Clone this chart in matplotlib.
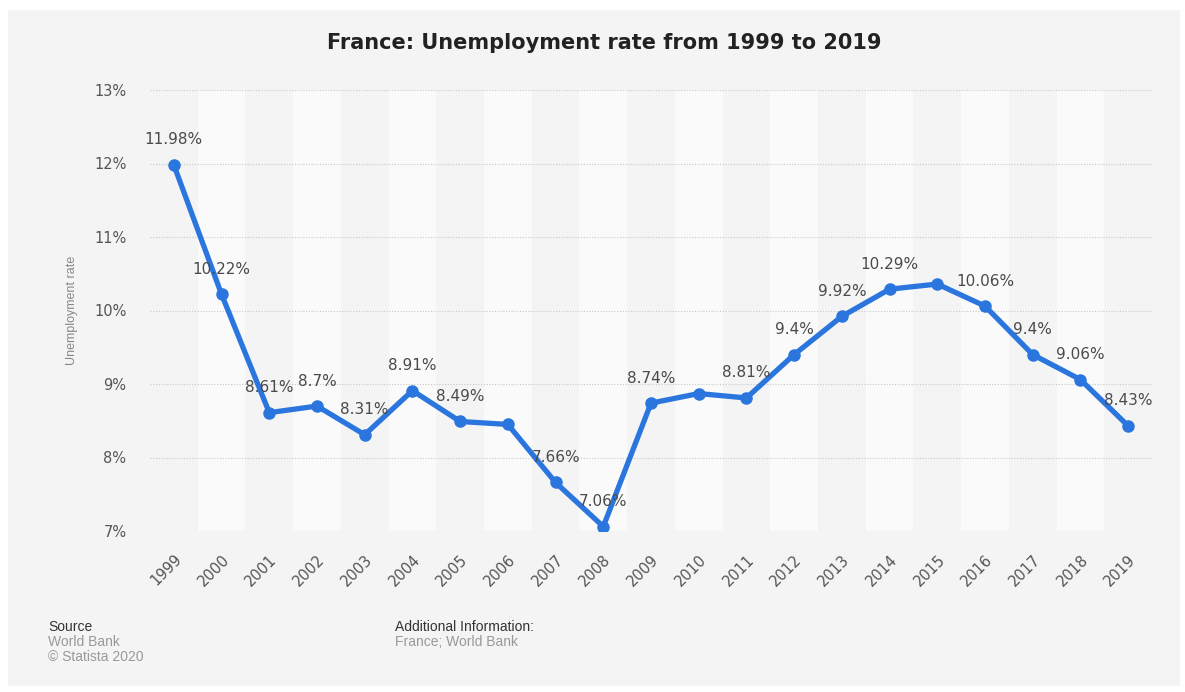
import matplotlib
matplotlib.use("Agg")
import matplotlib.pyplot as plt
from matplotlib.patches import Rectangle

years = [str(y) for y in range(1999, 2020)]
rates = [11.98, 10.22, 8.61, 8.70, 8.31, 8.91, 8.49, 8.45, 7.66, 7.06, 8.74,
         8.87, 8.81, 9.40, 9.92, 10.29, 10.36, 10.06, 9.40, 9.06, 8.43]
labels = ["11.98%", "10.22%", "8.61%", "8.7%", "8.31%", "8.91%", "8.49%", None,
          "7.66%", "7.06%", "8.74%", None, "8.81%", "9.4%", "9.92%", "10.29%",
          None, "10.06%", "9.4%", "9.06%", "8.43%"]
yticks = [7, 8, 9, 10, 11, 12, 13]
ytick_labels = ["7%", "8%", "9%", "10%", "11%", "12%", "13%"]

plt.rcParams['font.family'] = ['DejaVu Sans']

W, H = 1185, 692
fig = plt.figure(figsize=(W / 100, H / 100), dpi=100, facecolor="white")
bg = "#f4f4f4"
fig.patches.append(Rectangle((8 / W, 1 - 686 / H), (1180 - 8) / W, (686 - 10) / H,
                             transform=fig.transFigure, facecolor=bg,
                             edgecolor="none", zorder=-10))

ax = fig.add_axes([150 / W, 1 - 531 / H, (1152 - 150) / W, (531 - 90) / H])
ax.set_facecolor(bg)
x = list(range(len(years)))
for i in x:
    if i % 2 == 1:
        ax.axvspan(i - 0.5, i + 0.5, color="#fafafa", zorder=0, lw=0)

ax.set_xlim(-0.5, len(years) - 0.5)
ax.set_ylim(7, 13)
ax.set_yticks(yticks)
ax.set_yticklabels(ytick_labels)
ax.yaxis.grid(True, color="#c8c8c8", linestyle=(0, (1, 1.5)), linewidth=0.8, zorder=1)
ax.set_axisbelow(True)
for s in ax.spines.values():
    s.set_visible(False)
ax.tick_params(axis="both", length=0, colors="#555555", labelsize=10.5)
ax.tick_params(axis="y", pad=17)
ax.set_xticks(x)
ax.set_xticklabels(years, rotation=45, ha="right", va="top", rotation_mode="anchor")
ax.tick_params(axis="x", pad=15)

ax.plot(x, rates, color="#2a75de", linewidth=3.8, marker="o", markersize=8,
        solid_capstyle="round", solid_joinstyle="round", zorder=3)

for xi, yi, lab in zip(x, rates, labels):
    if lab:
        ax.annotate(lab, (xi, yi), xytext=(0, 18), textcoords="offset points",
                    ha="center", va="center", fontsize=11, color="#4a4a4a", zorder=4)

fig.text(72 / W, 1 - 310 / H, "Unemployment rate", rotation=90, ha="center", va="center",
         fontsize=9, color="#888888", family="Liberation Sans")

fig.text(604 / W, 1 - 43 / H, "France: Unemployment rate from 1999 to 2019",
         ha="center", va="center", fontsize=15, fontweight="bold", color="#222222")

foot = dict(fontsize=10, va="center", family="Liberation Sans")
fig.text(48 / W, 1 - 627 / H, "Source", color="#333333", **foot)
fig.text(48 / W, 1 - 642 / H, "World Bank", color="#999999", **foot)
fig.text(48 / W, 1 - 657 / H, "\u00a9 Statista 2020", color="#999999", **foot)
fig.text(395 / W, 1 - 627 / H, "Additional Information:", color="#333333", **foot)
fig.text(395 / W, 1 - 642 / H, "France; World Bank", color="#999999", **foot)

fig.savefig("out.png", dpi=100, facecolor="white")
